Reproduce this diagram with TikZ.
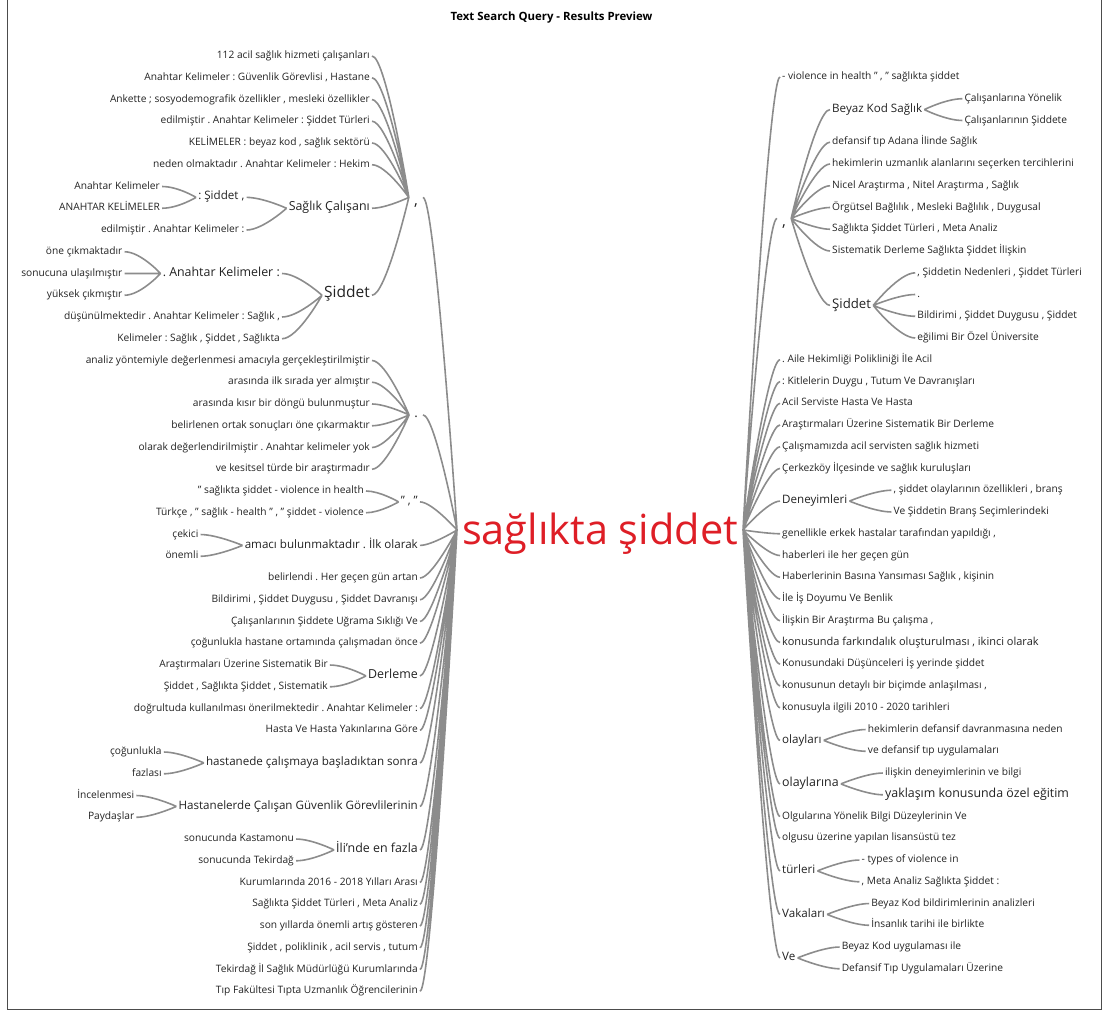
\documentclass[tikz,border=0pt]{standalone}
\usepackage{fontspec}
\setmainfont{Open Sans}
\usetikzlibrary{positioning}
\frenchspacing
\definecolor{treegray}{RGB}{140,140,140}
\definecolor{rootred}{RGB}{222,30,38}
\definecolor{wordink}{RGB}{34,34,34}
\tikzset{
    leaf/.style={inner xsep=2pt, inner ysep=0pt, text height=0.74em, text depth=0.22em, text=wordink, font=\fontsize{10.2}{12}\selectfont},
    lleaf/.style={leaf, anchor=east},
    rleaf/.style={leaf, anchor=west},
    medsize/.style={font=\fontsize{11}{13}\selectfont},
    midsize/.style={font=\fontsize{11.6}{13}\selectfont},
    bigsize/.style={font=\fontsize{12.4}{14}\selectfont},
    largesize/.style={font=\fontsize{13.2}{15}\selectfont},
    hugesize/.style={font=\fontsize{15.5}{18}\selectfont},
    punct/.style={inner xsep=5pt},
    rootword/.style={inner sep=0pt, text=rootred, font=\fontsize{41.5}{48}\selectfont},
    titletext/.style={font=\bfseries\fontsize{11.4}{13}\selectfont, text=black},
    framebox/.style={draw=black!70, line width=1pt},
    llink/.style={draw=treegray, line width=1.6pt, to path={(\tikztostart.east) .. controls +(#1,0) and (\tikztotarget.west) .. (\tikztotarget.west)}},
    llink/.default=14,
    rlink/.style={draw=treegray, line width=1.6pt, to path={(\tikztostart.west) .. controls +(-#1,0) and (\tikztotarget.east) .. (\tikztotarget.east)}},
    rlink/.default=14,
}
\begin{document}
\begin{tikzpicture}[x=1pt, y=-1pt]
    \useasboundingbox (0,0) rectangle (1103,1012);
    \draw[framebox] (7,-2) rectangle (1101,1009);
    \node[titletext] (title) at (551.5,18) {Text Search Query - Results Preview};

    % root word
    \node[rootword] (root) at (600,534) {sağlıkta şiddet};
    \coordinate (rootL) at (457,530);
    \coordinate (rootR) at (743,530);

    % left tree, first comma group
    \node[lleaf, punct, hugesize] (cA) at (423,197.4) {\raisebox{-5pt}{,}};
    \node[lleaf] (a1) at (372,56) {112 acil sağlık hizmeti çalışanları};
    \node[lleaf] (a2) at (372,77.75) {Anahtar Kelimeler : Güvenlik Görevlisi , Hastane};
    \node[lleaf] (a3) at (372,99.5) {Ankette ; sosyodemografik özellikler , mesleki özellikler};
    \node[lleaf] (a4) at (372,121.25) {edilmiştir . Anahtar Kelimeler : Şiddet Türleri};
    \node[lleaf] (a5) at (372,143) {KELİMELER : beyaz kod , sağlık sektörü};
    \node[lleaf] (a6) at (372,164.75) {neden olmaktadır . Anahtar Kelimeler : Hekim};
    \node[lleaf, bigsize] (a7) at (372,208.25) {Sağlık Çalışanı};
    \node[lleaf, midsize, left=40pt of a7, yshift=10.875pt] (a7a) {: Şiddet ,};
    \node[lleaf, left=40pt of a7, yshift=-21.75pt] (a7b) {edilmiştir . Anahtar Kelimeler :};
    \node[lleaf, left=34pt of a7a, yshift=10.875pt] (a7a1) {Anahtar Kelimeler};
    \node[lleaf, left=34pt of a7a, yshift=-10.875pt] (a7a2) {ANAHTAR KELİMELER};
    \node[lleaf, hugesize] (a8) at (372,295.25) {Şiddet};
    \node[lleaf, bigsize, left=40pt of a8, yshift=21.75pt] (a8a) {. Anahtar Kelimeler :};
    \node[lleaf, left=40pt of a8, yshift=-21.75pt] (a8b) {düşünülmektedir . Anahtar Kelimeler : Sağlık ,};
    \node[lleaf, left=40pt of a8, yshift=-43.5pt] (a8c) {Kelimeler : Sağlık , Şiddet , Sağlıkta};
    \node[lleaf, left=36pt of a8a, yshift=21.75pt] (a8a1) {öne çıkmaktadır};
    \node[lleaf, left=36pt of a8a] (a8a2) {sonucuna ulaşılmıştır};
    \node[lleaf, left=36pt of a8a, yshift=-21.75pt] (a8a3) {yüksek çıkmıştır};

    % left tree, period group
    \node[lleaf, punct, largesize] (cB) at (423,414.9) {.};
    \node[lleaf] (b1) at (372,360.5) {analiz yöntemiyle değerlenmesi amacıyla gerçekleştirilmiştir};
    \node[lleaf] (b2) at (372,382.25) {arasında ilk sırada yer almıştır};
    \node[lleaf] (b3) at (372,404) {arasında kısır bir döngü bulunmuştur};
    \node[lleaf] (b4) at (372,425.75) {belirlenen ortak sonuçları öne çıkarmaktır};
    \node[lleaf] (b5) at (372,447.5) {olarak değerlendirilmiştir . Anahtar kelimeler yok};
    \node[lleaf] (b6) at (372,469.25) {ve kesitsel türde bir araştırmadır};

    % left tree, quote group
    \node[lleaf, midsize] (cC) at (420,501.9) {" , "};
    \node[lleaf] (c1) at (366,491) {" sağlıkta şiddet - violence in health};
    \node[lleaf] (c2) at (366,512.75) {Türkçe , " sağlık - health " , " şiddet - violence};

    % left tree, direct words
    \node[lleaf, midsize] (d1) at (420,545.4) {amacı bulunmaktadır . İlk olarak};
    \node[lleaf, left=42pt of d1, yshift=10.875pt] (d1a) {çekici};
    \node[lleaf, left=42pt of d1, yshift=-10.875pt] (d1b) {önemli};
    \node[lleaf] (d2) at (420,578) {belirlendi . Her geçen gün artan};
    \node[lleaf] (d3) at (420,599.75) {Bildirimi , Şiddet Duygusu , Şiddet Davranışı};
    \node[lleaf] (d4) at (420,621.5) {Çalışanlarının Şiddete Uğrama Sıklığı Ve};
    \node[lleaf] (d5) at (420,643.25) {çoğunlukla hastane ortamında çalışmadan önce};
    \node[lleaf, bigsize] (d6) at (420,675.9) {Derleme};
    \node[lleaf, left=36pt of d6, yshift=10.875pt] (d6a) {Araştırmaları Üzerine Sistematik Bir};
    \node[lleaf, left=36pt of d6, yshift=-10.875pt] (d6b) {Şiddet , Sağlıkta Şiddet , Sistematik};
    \node[lleaf] (d7) at (420,708.5) {doğrultuda kullanılması önerilmektedir . Anahtar Kelimeler :};
    \node[lleaf] (d8) at (420,730.25) {Hasta Ve Hasta Yakınlarına Göre};
    \node[lleaf, midsize] (d9) at (420,762.9) {hastanede çalışmaya başladıktan sonra};
    \node[lleaf, left=40pt of d9, yshift=10.875pt] (d9a) {çoğunlukla};
    \node[lleaf, left=40pt of d9, yshift=-10.875pt] (d9b) {fazlası};
    \node[lleaf, midsize] (d10) at (420,806.4) {Hastanelerde Çalışan Güvenlik Görevlilerinin};
    \node[lleaf, left=40pt of d10, yshift=10.875pt] (d10a) {İncelenmesi};
    \node[lleaf, left=40pt of d10, yshift=-10.875pt] (d10b) {Paydaşlar};
    \node[lleaf, bigsize] (d11) at (420,849.9) {İli'nde en fazla};
    \node[lleaf, left=38pt of d11, yshift=10.875pt] (d11a) {sonucunda Kastamonu};
    \node[lleaf, left=38pt of d11, yshift=-10.875pt] (d11b) {sonucunda Tekirdağ};
    \node[lleaf] (d12) at (420,882.5) {Kurumlarında 2016 - 2018 Yılları Arası};
    \node[lleaf] (d13) at (420,904.25) {Sağlıkta Şiddet Türleri , Meta Analiz};
    \node[lleaf] (d14) at (420,926) {son yıllarda önemli artış gösteren};
    \node[lleaf] (d15) at (420,947.75) {Şiddet , poliklinik , acil servis , tutum};
    \node[lleaf] (d16) at (420,969.5) {Tekirdağ İl Sağlık Müdürlüğü Kurumlarında};
    \node[lleaf] (d17) at (420,991.25) {Tıp Fakültesi Tıpta Uzmanlık Öğrencilerinin};

    % right tree
    \node[rleaf] (r1) at (780,77) {- violence in health " , " sağlıkta şiddet};
    \node[rleaf, punct, hugesize] (rC) at (777,218.4) {\raisebox{-5pt}{,}};
    \node[rleaf, midsize] (rC1) at (830,109.6) {Beyaz Kod Sağlık};
    \node[rleaf, right=38pt of rC1, yshift=10.875pt] (rC1a) {Çalışanlarına Yönelik};
    \node[rleaf, right=38pt of rC1, yshift=-10.875pt] (rC1b) {Çalışanlarının Şiddete};
    \node[rleaf] (rC2) at (830,142.25) {defansif tıp Adana İlinde Sağlık};
    \node[rleaf] (rC3) at (830,164) {hekimlerin uzmanlık alanlarını seçerken tercihlerini};
    \node[rleaf] (rC4) at (830,185.75) {Nicel Araştırma , Nitel Araştırma , Sağlık};
    \node[rleaf] (rC5) at (830,207.5) {Örgütsel Bağlılık , Mesleki Bağlılık , Duygusal};
    \node[rleaf] (rC6) at (830,229.25) {Sağlıkta Şiddet Türleri , Meta Analiz};
    \node[rleaf] (rC7) at (830,251) {Sistematik Derleme Sağlıkta Şiddet İlişkin};
    \node[rleaf, largesize] (rC8) at (830,305.4) {Şiddet};
    \node[rleaf, right=42pt of rC8, yshift=32.6pt] (rC8a) {, Şiddetin Nedenleri , Şiddet Türleri};
    \node[rleaf, right=42pt of rC8, yshift=10.9pt] (rC8b) {.};
    \node[rleaf, right=42pt of rC8, yshift=-10.9pt] (rC8c) {Bildirimi , Şiddet Duygusu , Şiddet};
    \node[rleaf, right=42pt of rC8, yshift=-32.6pt] (rC8d) {eğilimi Bir Özel Üniversite};
    \node[rleaf] (r3) at (780,359.75) {. Aile Hekimliği Polikliniği İle Acil};
    \node[rleaf] (r4) at (780,381.5) {: Kitlelerin Duygu , Tutum Ve Davranışları};
    \node[rleaf] (r5) at (780,403.25) {Acil Serviste Hasta Ve Hasta};
    \node[rleaf] (r6) at (780,425) {Araştırmaları Üzerine Sistematik Bir Derleme};
    \node[rleaf] (r7) at (780,446.75) {Çalışmamızda acil servisten sağlık hizmeti};
    \node[rleaf] (r8) at (780,468.5) {Çerkezköy İlçesinde ve sağlık kuruluşları};
    \node[rleaf, midsize] (r9) at (780,501.1) {Deneyimleri};
    \node[rleaf, right=42pt of r9, yshift=10.875pt] (r9a) {, şiddet olaylarının özellikleri , branş};
    \node[rleaf, right=42pt of r9, yshift=-10.875pt] (r9b) {Ve Şiddetin Branş Seçimlerindeki};
    \node[rleaf] (r10) at (780,533.75) {genellikle erkek hastalar tarafından yapıldığı ,};
    \node[rleaf] (r11) at (780,555.5) {haberleri ile her geçen gün};
    \node[rleaf] (r12) at (780,577.25) {Haberlerinin Basına Yansıması Sağlık , kişinin};
    \node[rleaf] (r13) at (780,599) {İle İş Doyumu Ve Benlik};
    \node[rleaf] (r14) at (780,620.75) {İlişkin Bir Araştırma Bu çalışma ,};
    \node[rleaf, medsize] (r15) at (780,642.5) {konusunda farkındalık oluşturulması , ikinci olarak};
    \node[rleaf] (r16) at (780,664.25) {Konusundaki Düşünceleri İş yerinde şiddet};
    \node[rleaf] (r17) at (780,686) {konusunun detaylı bir biçimde anlaşılması ,};
    \node[rleaf] (r18) at (780,707.75) {konusuyla ilgili 2010 - 2020 tarihleri};
    \node[rleaf, midsize] (r19) at (780,740.4) {olayları};
    \node[rleaf, right=42pt of r19, yshift=10.875pt] (r19a) {hekimlerin defansif davranmasına neden};
    \node[rleaf, right=42pt of r19, yshift=-10.875pt] (r19b) {ve defansif tıp uygulamaları};
    \node[rleaf, bigsize] (r20) at (780,783.9) {olaylarına};
    \node[rleaf, right=42pt of r20, yshift=10.875pt] (r20a) {ilişkin deneyimlerinin ve bilgi};
    \node[rleaf, bigsize, right=42pt of r20, yshift=-10.875pt] (r20b) {yaklaşım konusunda özel eğitim};
    \node[rleaf] (r21) at (780,816.5) {Olgularına Yönelik Bilgi Düzeylerinin Ve};
    \node[rleaf] (r22) at (780,838.25) {olgusu üzerine yapılan lisansüstü tez};
    \node[rleaf, midsize] (r23) at (780,870.9) {türleri};
    \node[rleaf, right=42pt of r23, yshift=10.875pt] (r23a) {- types of violence in};
    \node[rleaf, right=42pt of r23, yshift=-10.875pt] (r23b) {, Meta Analiz Sağlıkta Şiddet :};
    \node[rleaf, midsize] (r24) at (780,914.4) {Vakaları};
    \node[rleaf, right=42pt of r24, yshift=10.875pt] (r24a) {Beyaz Kod bildirimlerinin analizleri};
    \node[rleaf, right=42pt of r24, yshift=-10.875pt] (r24b) {İnsanlık tarihi ile birlikte};
    \node[rleaf, midsize] (r25) at (780,957.9) {Ve};
    \node[rleaf, right=42pt of r25, yshift=10.875pt] (r25a) {Beyaz Kod uygulaması ile};
    \node[rleaf, right=42pt of r25, yshift=-10.875pt] (r25b) {Defansif Tıp Uygulamaları Üzerine};

    % left branches
    \draw[llink] (a1) to (cA) (a2) to (cA) (a3) to (cA) (a4) to (cA) (a5) to (cA) (a6) to (cA) (a7) to (cA) (a8) to (cA);
    \draw[llink=16] (a7a) to (a7) (a7b) to (a7) (a7a1) to (a7a) (a7a2) to (a7a);
    \draw[llink=16] (a8a) to (a8) (a8b) to (a8) (a8c) to (a8) (a8a1) to (a8a) (a8a2) to (a8a) (a8a3) to (a8a);
    \draw[llink] (b1) to (cB) (b2) to (cB) (b3) to (cB) (b4) to (cB) (b5) to (cB) (b6) to (cB);
    \draw[llink] (c1) to (cC) (c2) to (cC);
    \draw[llink=16] (d1a) to (d1) (d1b) to (d1) (d6a) to (d6) (d6b) to (d6) (d9a) to (d9) (d9b) to (d9)
        (d10a) to (d10) (d10b) to (d10) (d11a) to (d11) (d11b) to (d11);
    \draw[llink=12] (cA) to (rootL) (cB) to (rootL) (cC) to (rootL) (d1) to (rootL) (d2) to (rootL) (d3) to (rootL)
        (d4) to (rootL) (d5) to (rootL) (d6) to (rootL) (d7) to (rootL) (d8) to (rootL) (d9) to (rootL)
        (d10) to (rootL) (d11) to (rootL) (d12) to (rootL) (d13) to (rootL) (d14) to (rootL) (d15) to (rootL)
        (d16) to (rootL) (d17) to (rootL);

    % right branches
    \draw[rlink] (rC1) to (rC) (rC2) to (rC) (rC3) to (rC) (rC4) to (rC) (rC5) to (rC) (rC6) to (rC) (rC7) to (rC) (rC8) to (rC);
    \draw[rlink=16] (rC1a) to (rC1) (rC1b) to (rC1) (rC8a) to (rC8) (rC8b) to (rC8) (rC8c) to (rC8) (rC8d) to (rC8);
    \draw[rlink=16] (r9a) to (r9) (r9b) to (r9) (r19a) to (r19) (r19b) to (r19) (r20a) to (r20) (r20b) to (r20)
        (r23a) to (r23) (r23b) to (r23) (r24a) to (r24) (r24b) to (r24) (r25a) to (r25) (r25b) to (r25);
    \draw[rlink=12] (r1) to (rootR) (rC) to (rootR) (r3) to (rootR) (r4) to (rootR) (r5) to (rootR) (r6) to (rootR)
        (r7) to (rootR) (r8) to (rootR) (r9) to (rootR) (r10) to (rootR) (r11) to (rootR) (r12) to (rootR)
        (r13) to (rootR) (r14) to (rootR) (r15) to (rootR) (r16) to (rootR) (r17) to (rootR) (r18) to (rootR)
        (r19) to (rootR) (r20) to (rootR) (r21) to (rootR) (r22) to (rootR) (r23) to (rootR) (r24) to (rootR)
        (r25) to (rootR);
\end{tikzpicture}
\end{document}
